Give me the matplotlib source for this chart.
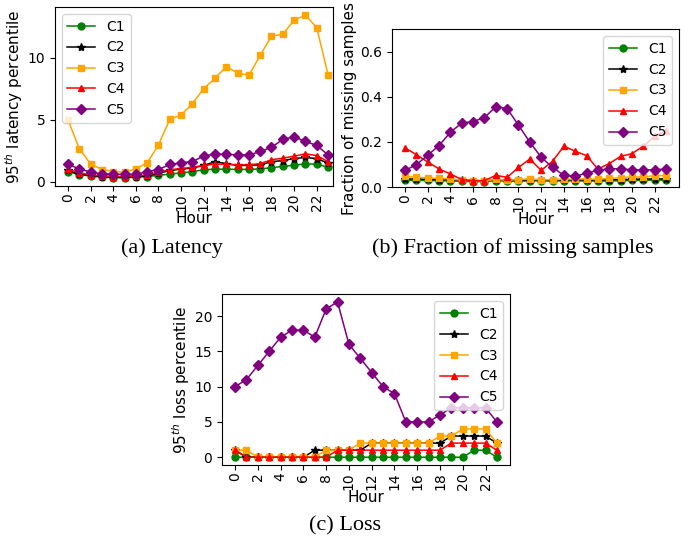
import numpy as np
import matplotlib
matplotlib.use("Agg")
import matplotlib.pyplot as plt

hours = list(range(24))
labels = ["C1", "C2", "C3", "C4", "C5"]
colors = ["green", "black", "orange", "red", "purple"]
markers = ["o", "*", "s", "^", "D"]

# (a) latency, 95th percentile
lat_c1 = [0.8, 0.55, 0.45, 0.35, 0.3, 0.3, 0.35, 0.4, 0.5, 0.6, 0.7, 0.8,
          0.95, 1.0, 1.0, 0.98, 0.98, 1.02, 1.12, 1.22, 1.32, 1.42, 1.42, 1.15]
lat_c2 = [0.9, 0.6, 0.5, 0.4, 0.35, 0.35, 0.4, 0.45, 0.65, 0.9, 1.0, 1.1,
          1.3, 1.6, 1.45, 1.3, 1.3, 1.35, 1.6, 1.7, 1.85, 1.95, 1.85, 1.5]
lat_c3 = [5.0, 2.65, 1.43, 0.97, 0.81, 0.76, 1.03, 1.51, 2.95, 5.03, 5.38, 6.3,
          7.51, 8.35, 9.3, 8.78, 8.6, 10.2, 11.76, 11.92, 13.05, 13.46, 12.46, 8.65]
lat_c4 = [1.0, 0.7, 0.55, 0.45, 0.4, 0.4, 0.45, 0.55, 0.75, 0.95, 1.05, 1.15,
          1.3, 1.4, 1.4, 1.35, 1.35, 1.45, 1.76, 1.89, 2.05, 2.24, 2.1, 1.62]
lat_c5 = [1.38, 1.03, 0.76, 0.62, 0.6, 0.57, 0.57, 0.81, 0.97, 1.38, 1.51, 1.62,
          2.05, 2.24, 2.19, 2.16, 2.14, 2.43, 2.76, 3.41, 3.62, 3.24, 2.92, 2.16]

# (b) fraction of missing samples
miss_c1 = [0.031, 0.029, 0.029, 0.028, 0.027, 0.025, 0.024, 0.024, 0.028, 0.026, 0.025, 0.028,
           0.027, 0.026, 0.028, 0.027, 0.027, 0.026, 0.027, 0.028, 0.029, 0.03, 0.031, 0.031]
miss_c2 = [0.036, 0.035, 0.034, 0.033, 0.032, 0.03, 0.028, 0.028, 0.032, 0.03, 0.03, 0.032,
           0.031, 0.031, 0.032, 0.032, 0.032, 0.031, 0.032, 0.033, 0.034, 0.035, 0.036, 0.036]
miss_c3 = [0.048, 0.043, 0.04, 0.038, 0.036, 0.03, 0.028, 0.027, 0.034, 0.03, 0.033, 0.036,
           0.032, 0.033, 0.035, 0.035, 0.036, 0.034, 0.038, 0.042, 0.044, 0.045, 0.05, 0.051]
miss_c4 = [0.173, 0.144, 0.111, 0.08, 0.058, 0.033, 0.028, 0.028, 0.052, 0.043, 0.087, 0.124,
           0.074, 0.114, 0.181, 0.159, 0.139, 0.08, 0.104, 0.136, 0.148, 0.181, 0.225, 0.25]
miss_c5 = [0.074, 0.099, 0.141, 0.184, 0.243, 0.284, 0.29, 0.308, 0.356, 0.348, 0.274, 0.199,
           0.132, 0.087, 0.052, 0.047, 0.062, 0.074, 0.081, 0.081, 0.076, 0.076, 0.076, 0.08]

# (c) loss, 95th percentile
loss_c1 = [0, 0, 0, 0, 0, 0, 0, 0, 0, 0, 0, 0, 0, 0, 0, 0, 0, 0, 0, 0, 0, 1, 1, 0]
loss_c2 = [1, 0, 0, 0, 0, 0, 0, 1, 1, 1, 1, 1, 2, 2, 2, 2, 2, 2, 2, 3, 3, 3, 3, 2]
loss_c3 = [1, 1, 0, 0, 0, 0, 0, 0, 1, 1, 1, 2, 2, 2, 2, 2, 2, 2, 3, 3, 4, 4, 4, 2]
loss_c4 = [1, 0, 0, 0, 0, 0, 0, 0, 0, 1, 1, 1, 1, 1, 1, 1, 1, 1, 1, 2, 2, 2, 2, 1]
loss_c5 = [10, 11, 13, 15, 17, 18, 18, 17, 21, 22, 16, 14, 12, 10, 9, 5, 5, 5, 6, 7, 7, 7, 7, 5]

msizes = [5, 6, 5, 5, 5]

fig = plt.figure(figsize=(6.97, 5.39), dpi=100)
ax_a = fig.add_axes([0.0789, 0.655, 0.399, 0.332])
ax_b = fig.add_axes([0.5624, 0.653, 0.4118, 0.293])
ax_c = fig.add_axes([0.3185, 0.1373, 0.4132, 0.317])


def draw(ax, series, ylabel, loc):
    for vals, lab, col, mk, ms in zip(series, labels, colors, markers, msizes):
        ax.plot(hours, vals, color=col, marker=mk, markersize=ms, linewidth=1.1, label=lab)
    ax.set_xticks(range(0, 24, 2))
    ax.tick_params(axis='x', labelrotation=90, labelsize=10, pad=2)
    ax.tick_params(axis='y', labelsize=10)
    ax.set_xlabel("Hour", fontsize=11, labelpad=0)
    ax.set_ylabel(ylabel, fontsize=11, labelpad=2)
    ax.legend(loc=loc, fontsize=10)


draw(ax_a, [lat_c1, lat_c2, lat_c3, lat_c4, lat_c5], r"95$^{th}$ latency percentile", "upper left")
ax_a.set_xlim(-1.15, 23.45)
ax_a.set_yticks([0, 5, 10])

draw(ax_b, [miss_c1, miss_c2, miss_c3, miss_c4, miss_c5], "Fraction of missing samples", "upper right")
ax_b.set_ylim(0, 0.7)
ax_b.set_yticks([0.0, 0.2, 0.4, 0.6])

draw(ax_c, [loss_c1, loss_c2, loss_c3, loss_c4, loss_c5], r"95$^{th}$ loss percentile", "upper right")
ax_c.set_yticks([0, 5, 10, 15, 20])

cap = dict(fontsize=16, family="Liberation Serif", ha="center", va="center")
fig.text(0.247, 0.540, "(a) Latency", **cap)
fig.text(0.735, 0.540, "(b) Fraction of missing samples", **cap)
fig.text(0.495, 0.024, "(c) Loss", **cap)

fig.savefig("out.png", dpi=100)
